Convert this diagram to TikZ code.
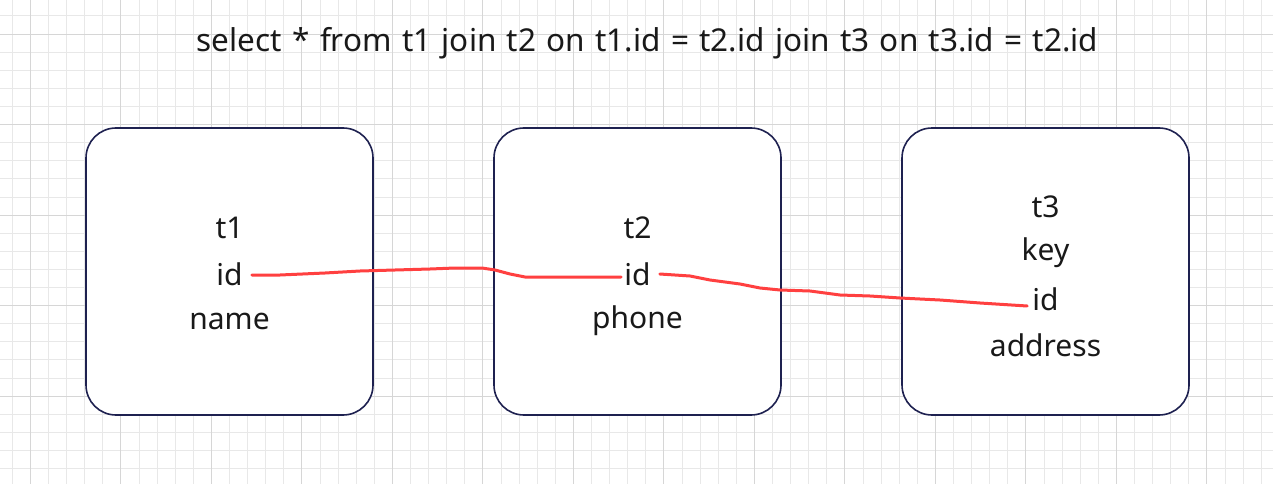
\documentclass[tikz,border=0pt]{standalone}
\usepackage{fontspec}
\setmainfont{Noto Sans}
\newfontfamily\titlefont[WordSpace=1.26]{Noto Sans}
\begin{document}
\begin{tikzpicture}[x=1pt,y=-1pt,
  minorgrid/.style={draw=black!9, line width=0.8pt},
  majorgrid/.style={draw=black!16, line width=0.9pt},
  table/.style={draw=navyline, line width=1.6pt, fill=white, rounded corners=30pt,
    minimum width=287pt, minimum height=287pt, inner sep=0pt},
  field/.style={font=\fontsize{30}{36}\selectfont, text=black!90, inner sep=1pt},
  title/.style={font=\titlefont\fontsize{31.5}{37}\selectfont, text=black!90, inner sep=0pt},
  joinline/.style={draw=joinred, line width=3pt, line cap=round, line join=round}]
\definecolor{navyline}{HTML}{1E2150}
\definecolor{joinred}{HTML}{FF4040}
\useasboundingbox (0,0) rectangle (1273,484);
\fill[white] (0,0) rectangle (1273,484);
% grid
\foreach \i in {0,...,70} {
  \pgfmathsetmacro{\gx}{12.2+18.1*\i}
  \draw[minorgrid] (\gx,0) -- (\gx,484);
}
\foreach \i in {0,...,26} {
  \pgfmathsetmacro{\gy}{15.9+18.1*\i}
  \draw[minorgrid] (0,\gy) -- (1273,\gy);
}
\foreach \i in {0,...,14} {
  \pgfmathsetmacro{\gx}{30.3+90.5*\i}
  \draw[majorgrid] (\gx,0) -- (\gx,484);
}
\foreach \i in {0,...,5} {
  \pgfmathsetmacro{\gy}{34+90.5*\i}
  \draw[majorgrid] (0,\gy) -- (1273,\gy);
}
% title
\node[title] (sql) at (647.5,43) {select * from t1 join t2 on t1.id = t2.id join t3 on t3.id = t2.id};
% tables
\node[table] (tb1) at (229.5,271.5) {};
\node[table] (tb2) at (637.5,271.5) {};
\node[table] (tb3) at (1045.5,271.5) {};
% fields
\node[field] (t1) at (229.5,228) {t1};
\node[field] (id1) at (229.5,274) {id};
\node[field] (name1) at (229.5,321) {name};
\node[field] (t2) at (637.5,228) {t2};
\node[field] (id2) at (637.5,274) {id};
\node[field] (phone2) at (637.5,321) {phone};
\node[field] (t3) at (1045.5,207) {t3};
\node[field] (key3) at (1045.5,253) {key};
\node[field] (id3) at (1045.5,299) {id};
\node[field] (addr3) at (1045.5,345) {address};
% join lines
\draw[joinline] ([xshift=8pt,yshift=-1pt]id1.east)
  -- (280,275) -- (325,273) -- (360,271) -- (395,270) -- (430,269) -- (455,268)
  -- (482,268) -- (495,270) -- (510,274) -- (525,277) -- (540,277) -- ([xshift=-2pt,yshift=-3pt]id2.west);
\draw[joinline] ([xshift=8pt,yshift=0pt]id2.east) -- (690,276) -- (710,280) -- (740,284) -- (760,288)
  -- (780,290) -- (810,291) -- (840,295) -- (870,296) -- (900,298) -- (940,300) -- (980,303)
  -- ([xshift=-4pt,yshift=-7pt]id3.west);
\end{tikzpicture}
\end{document}
